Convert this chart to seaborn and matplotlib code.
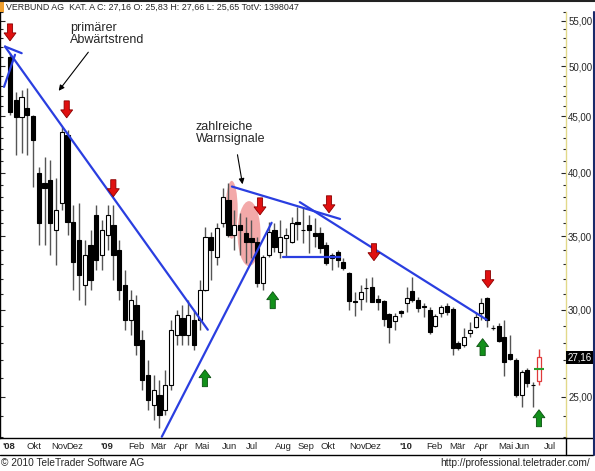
import matplotlib.pyplot as plt
import matplotlib.patches as mpatches
from matplotlib.lines import Line2D
from matplotlib.transforms import IdentityTransform
from matplotlib.ticker import FixedLocator, FixedFormatter, NullFormatter
import pandas as pd
import seaborn as sns

# weekly candles VERBUND AG, Aug 2008 - Jun 2010
opens = [50.98, 46.59, 44.96, 45.82, 45.05, 39.99, 39.15, 39.40, 35.49, 37.55,
         43.29, 36.09, 34.75, 31.63, 34.39, 36.61, 33.68, 35.12, 35.86, 34.03,
         31.63, 29.39, 30.33, 28.19, 26.19, 24.60, 25.12, 24.34, 25.65, 28.48,
         29.51, 28.48, 29.39, 29.39, 31.30, 34.97, 33.54, 36.01, 37.79, 35.12,
         35.86, 35.27, 34.90, 34.60, 31.76, 33.68, 35.49, 33.89, 34.90, 34.60,
         36.09, 35.49, 35.86, 35.27, 35.27, 34.39, 33.46, 33.89, 33.19, 32.44,
         30.55, 30.71, 31.43, 31.49, 30.71, 30.59, 29.76, 29.33, 29.95, 30.46,
         31.23, 30.65, 30.22, 30.01, 29.02, 29.82, 30.27, 30.08, 28.01, 27.90,
         28.60, 28.96, 29.82, 30.78, 28.90, 29.02, 28.37, 27.37, 27.03, 25.12,
         26.47, 25.65, 25.83]
highs = [51.41, 47.37, 47.57, 47.77, 45.10, 40.49, 41.35, 41.09, 39.57, 44.03,
         43.75, 37.40, 37.55, 34.75, 35.49, 37.40, 36.24, 37.40, 37.40, 34.75,
         32.64, 31.30, 30.97, 28.78, 27.03, 26.19, 25.92, 26.47, 29.39, 30.01,
         30.33, 30.65, 30.01, 31.96, 35.71, 35.34, 36.01, 38.75, 39.15, 37.00,
         36.77, 36.46, 36.24, 34.97, 33.68, 36.09, 36.01, 36.24, 35.64, 36.46,
         37.24, 37.24, 36.61, 36.39, 35.71, 34.60, 33.82, 34.03, 33.46, 32.50,
         31.17, 31.63, 32.10, 32.16, 30.97, 30.65, 29.82, 29.82, 30.01, 31.49,
         32.16, 30.84, 30.46, 30.20, 29.76, 30.33, 30.46, 30.20, 28.13, 28.90,
         29.27, 29.88, 30.78, 30.84, 29.08, 29.20, 29.39, 28.48, 27.10, 26.47,
         26.58, 25.81, 27.66]
lows = [45.14, 41.52, 41.70, 41.52, 38.83, 34.39, 34.39, 33.68, 32.98, 37.00,
        35.12, 31.30, 30.65, 30.33, 31.30, 32.64, 32.64, 34.03, 31.96, 30.65,
        28.78, 28.48, 27.31, 25.38, 24.34, 23.84, 23.44, 24.09, 25.38, 27.90,
        27.90, 27.90, 27.60, 28.78, 31.20, 31.96, 32.98, 35.71, 34.97, 34.03,
        33.68, 33.12, 33.46, 31.49, 31.30, 33.54, 33.89, 33.46, 33.54, 34.55,
        34.75, 34.53, 33.82, 34.24, 33.82, 32.98, 32.64, 32.85, 32.64, 30.01,
        29.64, 30.01, 30.52, 30.50, 30.01, 29.02, 28.01, 28.78, 29.57, 29.88,
        30.52, 29.88, 29.57, 28.54, 28.96, 29.57, 29.70, 27.31, 27.60, 27.78,
        28.37, 28.90, 29.39, 28.96, 28.78, 28.07, 26.14, 27.03, 25.01, 24.49,
        25.55, 24.49, 25.65]
closes = [45.43, 44.96, 46.88, 45.14, 42.84, 36.01, 38.75, 36.01, 37.00, 43.57,
          36.09, 33.19, 32.30, 33.68, 31.96, 33.33, 35.49, 36.61, 33.68, 31.30,
          29.39, 30.65, 27.90, 25.92, 24.86, 25.38, 24.09, 25.65, 28.78, 29.70,
          28.48, 29.70, 27.90, 31.30, 34.97, 34.03, 35.64, 38.03, 35.12, 35.86,
          35.49, 34.60, 34.60, 31.76, 33.54, 35.34, 34.24, 34.97, 35.12, 36.01,
          35.94, 35.45, 35.49, 35.05, 34.17, 33.12, 33.68, 33.33, 32.78, 30.59,
          30.52, 31.17, 31.40, 30.52, 30.52, 29.45, 28.96, 29.64, 29.82, 30.78,
          30.65, 30.14, 30.19, 28.66, 29.64, 30.20, 29.88, 27.71, 27.71, 28.37,
          28.78, 29.57, 30.46, 29.39, 28.87, 28.13, 26.91, 27.09, 25.12, 26.36,
          25.76, 25.62, 27.16]

month_labels = ["'08", "Okt", "Nov", "Dez", "'09", "Feb", "Mär", "Apr", "Mai", "Jun", "Jul",
                "Aug", "Sep", "Okt", "Nov", "Dez", "'10", "Feb", "Mär", "Apr", "Mai", "Jun", "Jul"]
month_pos = [-0.26, 4.17, 8.55, 11.25, 16.87, 21.91, 25.74, 29.74, 33.39, 38.26, 42.09,
             47.48, 51.48, 55.30, 60.40, 63.10, 68.87, 73.74, 77.74, 81.91, 86.26, 89.22, 93.91]
price_ticks = [25, 30, 35, 40, 45, 50, 55]
last_close = 27.16
last_marker = 26.53

# trend lines drawn on the chart (week, price)
trend_main = ([-0.87, 34.4], [52.09, 28.78])
trend_up = ([26.4, 45.5], [23.0, 36.01])
trend_top = ([38.6, 57.4], [38.85, 36.30])
trend_mid = ([50.4, 82.9], [37.6, 29.39])
trend_flat = ([47.5, 57.4], [33.49, 33.49])
trend_tick_a = ([-1.04, 0.87], [47.87, 51.2])
trend_tick_b = ([-0.87, 2.03], [52.09, 51.37])

# signal arrows (week, price at arrow tip)
red_x = [0.0, 9.86, 17.97, 43.48, 55.48, 63.3, 83.13]
red_y = [52.71, 44.86, 38.03, 36.61, 36.77, 33.26, 31.43]
green_x = [33.9, 45.69, 82.2, 92.0]
green_y = [26.47, 31.17, 28.25, 24.34]

# warning zones (week, price of centre)
zone_x = [38.56, 41.57]
zone_y = [37.0, 35.2]

sns.set_style("white")
plt.rcParams['font.family'] = ['Liberation Sans', 'DejaVu Sans']

W, H = 595, 471
fig = plt.figure(figsize=(W / 100, H / 100), dpi=100)
ax = fig.add_axes([0, 1 - 438 / H, 566 / W, (438 - 12) / H])
ax.set_yscale('log')
ax.set_xlim(-1.74, 96.7)
ax.set_ylim(22.94, 56.0)

df = pd.DataFrame(dict(week=range(len(opens)), open=opens, high=highs, low=lows, close=closes))
hist = df.iloc[:-1]
last = df.iloc[-1]
up = hist[hist.close >= hist.open]
down = hist[hist.close < hist.open]

ax.vlines(hist.week, hist.low, hist.high, color='#555555', lw=1, zorder=2)
ax.bar(up.week, up.close - up.open, bottom=up.open, width=0.7,
       color='white', edgecolor='black', lw=0.8, zorder=3)
ax.bar(down.week, down.open - down.close, bottom=down.close, width=0.7,
       color='black', edgecolor='black', lw=0.8, zorder=3)
ax.vlines(last.week, last.low, last.high, color='#e03a3a', lw=1, zorder=2)
ax.bar(last.week, last.close - last.open, bottom=last.open, width=0.7,
       color='white', edgecolor='#e03a3a', lw=0.9, zorder=3)
ax.hlines(last_marker, last.week - 0.8, last.week + 0.8, color='#2a9a2a', lw=1.5, zorder=4)

blue = '#2a3ee0'
for xs, ys in [trend_main, trend_up, trend_top, trend_mid, trend_flat, trend_tick_a, trend_tick_b]:
    sns.lineplot(x=xs, y=ys, ax=ax, color=blue, lw=1.6, zorder=5)
ax.set_xlabel('')
ax.set_ylabel('')

# pink warning zones, sized in pixels
for (zx, zy), (w, h) in zip(zip(zone_x, zone_y), [(12, 58), (23, 65)]):
    cx, cy = ax.transData.transform((zx, zy))
    ax.add_patch(mpatches.Ellipse((cx, cy), w, h, transform=IdentityTransform(),
                                  fc='#f29a9a', ec='none', alpha=0.85, zorder=1, clip_on=False))


def block_arrow(x, y, down, fc, ec):
    px, py = ax.transData.transform((x, y))
    s = 1 if down else -1
    hw, sw, hl, L = 6, 2.6, 8, 17
    verts = [(px, py), (px - hw, py + s * hl), (px - sw, py + s * hl), (px - sw, py + s * L),
             (px + sw, py + s * L), (px + sw, py + s * hl), (px + hw, py + s * hl)]
    ax.add_patch(mpatches.Polygon(verts, closed=True, transform=IdentityTransform(),
                                  fc=fc, ec=ec, lw=0.6, zorder=6, clip_on=False))


for x, y in zip(red_x, red_y):
    block_arrow(x, y, True, '#e01010', '#8a0000')
for x, y in zip(green_x, green_y):
    block_arrow(x, y, False, '#12901a', '#0a5010')

# axes styling
ax.yaxis.tick_right()
ax.yaxis.set_major_locator(FixedLocator(price_ticks))
ax.yaxis.set_major_formatter(FixedFormatter([f"{v:.2f}".replace('.', ',') for v in price_ticks]))
ax.yaxis.set_minor_locator(FixedLocator([v for v in range(23, 57) if v not in price_ticks]))
ax.yaxis.set_minor_formatter(NullFormatter())
ax.tick_params(axis='y', which='both', left=True, right=True, direction='in', labelsize=7, pad=1.5)
ax.tick_params(axis='y', which='major', length=3.5, width=0.8)
ax.tick_params(axis='y', which='minor', length=2, width=0.8)

ax.set_xticks(month_pos)
ax.set_xticklabels(month_labels)
ax.tick_params(axis='x', length=0, pad=3, labelsize=6.8)
for lab in ax.get_xticklabels():
    if lab.get_text().startswith("'"):
        lab.set_fontweight('bold')

ax.spines['top'].set_visible(False)
ax.spines['left'].set_color('black')
ax.spines['bottom'].set_color('black')
ax.spines['right'].set_color('#e2d98a')
for sp in ax.spines.values():
    sp.set_linewidth(1)

ax.text(1.002, last_close, f"{last_close:.2f}".replace('.', ','), transform=ax.get_yaxis_transform(),
        ha='left', va='center', fontsize=7, color='white',
        bbox=dict(boxstyle='square,pad=0.12', fc='black', ec='none'))

# frame lines
def fline(x0, y0, x1, y1, color='black', lw=1):
    fig.add_artist(Line2D([x0 / W, x1 / W], [1 - y0 / H, 1 - y1 / H], color=color, lw=lw))


fline(0, 0.5, W, 0.5, '#222222', 1.5)
fline(566, 438, 593, 438)
fline(0, 454.5, 593, 454.5)
fline(566, 438, 566, 455)
fline(593.5, 12, 593.5, 455, '#1a2a6a', 1.5)
fig.add_artist(mpatches.Rectangle((0, 1 - 12 / H), 4 / W, 12 / H, transform=fig.transFigure,
                                  fc='#f0a030', ec='none'))

# texts
fig.text(6 / W, 1 - 7 / H, "VERBUND AG  KAT. A C: 27,16 O: 25,83 H: 27,66 L: 25,65 TotV: 1398047",
         fontsize=6.4, va='center', ha='left')
fig.text(1 / W, 1 - 463 / H, "© 2010 TeleTrader Software AG", fontsize=7.3, va='center')
fig.text(590 / W, 1 - 463 / H, "http://professional.teletrader.com/", fontsize=7.3, va='center', ha='right')

fig.text(70 / W, 1 - 22 / H, "primärer\nAbwärtstrend", fontsize=9, va='top', linespacing=0.95)
ax.annotate('', xy=(57, H - 93), xycoords='figure pixels', xytext=(90, H - 50),
            textcoords='figure pixels',
            arrowprops=dict(arrowstyle='-|>', color='black', lw=0.8, mutation_scale=8))
fig.text(196 / W, 1 - 121 / H, "zahlreiche\nWarnsignale", fontsize=9, va='top', linespacing=0.95)
ax.annotate('', xy=(243, H - 187), xycoords='figure pixels', xytext=(237, H - 152),
            textcoords='figure pixels',
            arrowprops=dict(arrowstyle='-|>', color='black', lw=0.8, mutation_scale=8))

fig.savefig('out.png', dpi=100)
